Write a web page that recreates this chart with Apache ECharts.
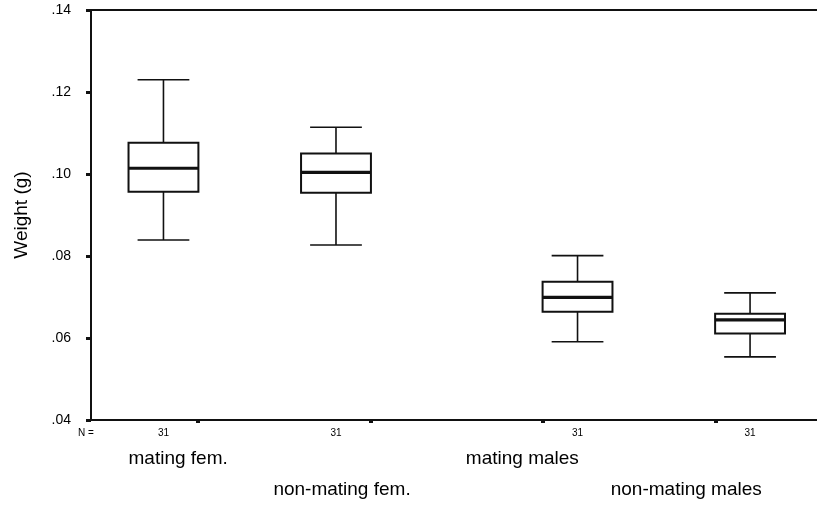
<!DOCTYPE html>
<html>
<head>
<meta charset="utf-8">
<script src="https://cdn.jsdelivr.net/npm/echarts@6/dist/echarts.min.js"></script>
<style>
  html, body { margin: 0; padding: 0; background: #fff; }
  #chart { width: 817px; height: 506px; }
</style>
</head>
<body>
<div id="chart"></div>
<script>
// Body weight of mating and non-mating individuals (five-number summaries)
const groups   = ['mating fem.', 'non-mating fem.', 'mating males', 'non-mating males'];
const whiskLo  = [0.0839, 0.0827, 0.0591, 0.0554];
const q1       = [0.0957, 0.0954, 0.0664, 0.0611];
const medians  = [0.1014, 0.1004, 0.0699, 0.0644];
const q3       = [0.1076, 0.1050, 0.0737, 0.0659];
const whiskHi  = [0.1230, 0.1114, 0.0801, 0.0710];
const counts   = [31, 31, 31, 31];
const yTicks   = [0.04, 0.06, 0.08, 0.10, 0.12, 0.14];

// Layout along the horizontal axis: one unit per group, females sit left of
// their tick and males right of theirs, labels alternate between two rows.
const groupTicks = [1, 2, 3, 4];
const boxX       = [0.8, 1.8, 3.2, 4.2];
const labelX     = [0.885, 1.835, 2.88, 3.83];
const BOX_W = 0.405;
const CAP_W = 0.30;
const X_MIN = 0.38, X_MAX = 4.588;
const FONT = '"Liberation Sans", Arial, sans-serif';
const INK = '#111';

const boxData = groups.map((g, i) => [boxX[i], whiskLo[i], q1[i], medians[i], q3[i], whiskHi[i]]);

function renderBox(params, api) {
  const x = api.value(0);
  const lo = api.coord([x, api.value(1)]);
  const b1 = api.coord([x, api.value(2)]);
  const md = api.coord([x, api.value(3)]);
  const b3 = api.coord([x, api.value(4)]);
  const hi = api.coord([x, api.value(5)]);
  const half = api.size([BOX_W, 0])[0] / 2;
  const capHalf = api.size([CAP_W, 0])[0] / 2;
  const cx = lo[0];
  const line = (x1, y1, x2, y2, w) => ({
    type: 'line',
    shape: { x1, y1, x2, y2 },
    style: { stroke: INK, lineWidth: w }
  });
  return {
    type: 'group',
    children: [
      line(cx, hi[1], cx, b3[1], 1.6),
      line(cx, b1[1], cx, lo[1], 1.6),
      line(cx - capHalf, hi[1], cx + capHalf, hi[1], 1.6),
      line(cx - capHalf, lo[1], cx + capHalf, lo[1], 1.6),
      {
        type: 'rect',
        shape: { x: cx - half, y: b3[1], width: 2 * half, height: b1[1] - b3[1] },
        style: { fill: '#fff', stroke: INK, lineWidth: 2 }
      },
      line(cx - half, md[1], cx + half, md[1], 3.2)
    ]
  };
}

const chart = echarts.init(document.getElementById('chart'), null, { renderer: 'canvas' });
chart.setOption({
  backgroundColor: '#fff',
  animation: false,
  textStyle: { fontFamily: FONT, color: '#000' },
  grid: { left: 91, right: 0, top: 10, bottom: 86, show: false },
  xAxis: [
    {
      type: 'value',
      min: X_MIN, max: X_MAX,
      position: 'bottom',
      splitLine: { show: false },
      axisLine: { show: true, onZero: false, lineStyle: { color: INK, width: 2 } },
      axisTick: {
        show: true, inside: false, length: 3, customValues: groupTicks,
        lineStyle: { color: INK, width: 4 }
      },
      axisLabel: {
        customValues: boxX,
        margin: 8,
        fontSize: 10, color: '#000', fontFamily: FONT,
        formatter: v => {
          const i = boxX.findIndex(b => Math.abs(b - v) < 1e-6);
          return i >= 0 ? String(counts[i]) : '';
        }
      }
    },
    {
      type: 'value',
      min: X_MIN, max: X_MAX,
      position: 'bottom',
      splitLine: { show: false },
      axisLine: { show: false },
      axisTick: { show: false },
      axisLabel: {
        customValues: labelX,
        margin: 23,
        fontSize: 19, lineHeight: 31, color: '#000', fontFamily: FONT,
        formatter: v => {
          const i = labelX.findIndex(b => Math.abs(b - v) < 1e-6);
          if (i < 0) return '';
          return i % 2 === 1 ? '\n' + groups[i] : groups[i];
        }
      }
    },
    {
      // top frame line
      type: 'value',
      min: X_MIN, max: X_MAX,
      position: 'top',
      splitLine: { show: false },
      axisLine: { show: true, onZero: false, lineStyle: { color: INK, width: 2 } },
      axisTick: { show: false },
      axisLabel: { show: false }
    }
  ],
  yAxis: {
    type: 'value',
    min: yTicks[0], max: yTicks[yTicks.length - 1], interval: 0.02,
    name: 'Weight (g)',
    nameLocation: 'middle',
    nameGap: 60,
    nameTextStyle: { fontSize: 19, color: '#000', fontFamily: FONT },
    splitLine: { show: false },
    axisLine: { show: true, onZero: false, lineStyle: { color: INK, width: 2 } },
    axisTick: { show: true, inside: false, length: 5, lineStyle: { color: INK, width: 3 } },
    axisLabel: {
      margin: 20, fontSize: 14, color: '#000', fontFamily: FONT,
      formatter: v => v.toFixed(2).replace(/^0/, '')
    }
  },
  graphic: [
    {
      type: 'text',
      left: 78, top: 428,
      style: { text: 'N =', fontSize: 10, fill: '#000', fontFamily: FONT }
    }
  ],
  series: [
    {
      type: 'custom',
      xAxisIndex: 0,
      renderItem: renderBox,
      encode: { x: 0, y: [1, 2, 3, 4, 5] },
      data: boxData,
      clip: false
    }
  ]
});
</script>
</body>
</html>
